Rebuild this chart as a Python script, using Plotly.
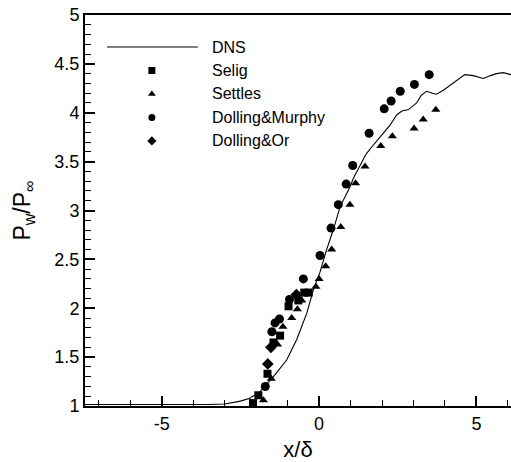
import plotly.graph_objects as go

# ---- DNS wall-pressure distribution ----
dns_x = [-7.44, -6.0, -5.0, -4.0, -3.5, -3.0, -2.5, -2.2, -1.87, -1.45, -1.03, -0.71,
         -0.39, -0.18, 0.03, 0.24, 0.45, 0.67, 0.98, 1.09, 1.35, 1.5, 1.75, 2.0, 2.25,
         2.47, 2.65, 2.83, 3.1, 3.25, 3.42, 3.6, 3.73, 3.95, 4.16, 4.4, 4.63, 4.9,
         5.22, 5.45, 5.64, 5.85, 6.1]
dns_y = [1.015, 1.015, 1.012, 1.015, 1.015, 1.02, 1.05, 1.08, 1.15, 1.30, 1.47, 1.68,
         1.95, 2.19, 2.37, 2.60, 2.80, 3.04, 3.24, 3.33, 3.48, 3.58, 3.68, 3.78, 3.87,
         3.98, 4.02, 4.03, 4.10, 4.18, 4.22, 4.20, 4.19, 4.23, 4.28, 4.34, 4.39, 4.38,
         4.35, 4.38, 4.40, 4.41, 4.39]

# ---- experiments ----
selig_x = [-2.1, -1.93, -1.64, -1.45, -1.24, -0.97, -0.66, -0.47, -0.33]
selig_y = [1.03, 1.11, 1.33, 1.65, 1.72, 2.02, 2.08, 2.16, 2.16]

settles_x = [-1.77, -1.52, -1.32, -1.15, -0.87, -0.69, -0.55, -0.1, 0.0, 0.21, 0.40,
             0.69, 0.98, 1.16, 1.46, 1.96, 2.33, 3.02, 3.31, 3.71]
settles_y = [1.06, 1.28, 1.63, 1.81, 1.90, 1.99, 2.08, 2.22, 2.30, 2.43, 2.60,
             2.83, 3.06, 3.28, 3.45, 3.66, 3.76, 3.84, 3.93, 4.03]

murphy_x = [-1.71, -1.5, -1.4, -1.26, -0.94, -0.5, 0.03, 0.38, 0.61, 0.86, 1.07,
            1.59, 2.07, 2.29, 2.58, 3.03, 3.5]
murphy_y = [1.20, 1.76, 1.85, 1.89, 2.09, 2.30, 2.54, 2.82, 3.06, 3.27, 3.46,
            3.79, 4.04, 4.12, 4.22, 4.29, 4.39]

or_x = [-2.17, -1.63, -1.53, -0.72]
or_y = [0.98, 1.43, 1.60, 2.14]

# ---- axis ticks ----
x_tickvals = [-5, 0, 5]
x_ticktext = ["-5", "0", "5"]
y_tickvals = [1, 1.5, 2, 2.5, 3, 3.5, 4, 4.5, 5]
y_ticktext = ["1", "1.5", "2", "2.5", "3", "3.5", "4", "4.5", "5"]

legend_names = ["DNS", "Selig", "Settles", "Dolling&Murphy", "Dolling&Or"]

FONT = "Liberation Sans, Arial, Helvetica, sans-serif"
BLACK = "black"

fig = go.Figure()

fig.add_trace(go.Scatter(x=dns_x, y=dns_y, mode="lines",
                         line=dict(color=BLACK, width=1.1), showlegend=False))

symbols = [("square", 8), ("triangle-up", 8), ("circle", 9), ("diamond", 9)]
series = [(selig_x, selig_y), (settles_x, settles_y),
          (murphy_x, murphy_y), (or_x, or_y)]
for (sx, sy), (sym, sz) in zip(series, symbols):
    fig.add_trace(go.Scatter(x=sx, y=sy, mode="markers", cliponaxis=False,
                             marker=dict(symbol=sym, size=sz, color=BLACK,
                                         line=dict(width=0)),
                             showlegend=False))

# ---- hand-drawn key on a hidden 0..1 helper axis pair ----
key_rows = [0.918, 0.858, 0.798, 0.738, 0.678]
fig.add_trace(go.Scatter(x=[0.0516, 0.265], y=[key_rows[0]] * 2, mode="lines",
                         line=dict(color=BLACK, width=1.1), xaxis="x2", yaxis="y2",
                         showlegend=False))
for row, (sym, _) in zip(key_rows[1:], symbols):
    fig.add_trace(go.Scatter(x=[0.157], y=[row], mode="markers", xaxis="x2", yaxis="y2",
                             marker=dict(symbol=sym, size=7, color=BLACK, line=dict(width=0)),
                             showlegend=False))
for row, name in zip(key_rows, legend_names):
    fig.add_annotation(x=0.293, y=row, xref="paper", yref="paper", text=name,
                       showarrow=False, xanchor="left", yanchor="middle",
                       font=dict(family=FONT, size=16, color=BLACK))

fig.update_layout(
    width=511, height=462,
    margin=dict(l=85, r=0, t=15, b=56),
    paper_bgcolor="white", plot_bgcolor="white",
    font=dict(family=FONT, color=BLACK),
    xaxis=dict(range=[-7.44, 6.1], showgrid=False, zeroline=False,
               showline=True, linecolor=BLACK, linewidth=2, mirror=True,
               ticks="inside", ticklen=10, tickwidth=1.5, tickcolor=BLACK,
               tickvals=x_tickvals, ticktext=x_ticktext,
               tickfont=dict(size=18, family=FONT),
               minor=dict(dtick=1, ticks="inside", ticklen=6, tickwidth=1, tickcolor=BLACK),
               title=dict(text="x/δ", font=dict(size=22, family=FONT), standoff=9)),
    yaxis=dict(range=[1, 5], showgrid=False, zeroline=False,
               showline=True, linecolor=BLACK, linewidth=2, mirror=False,
               ticks="inside", ticklen=10, tickwidth=1.5, tickcolor=BLACK,
               tickvals=y_tickvals, ticktext=y_ticktext,
               tickfont=dict(size=18, family=FONT),
               minor=dict(dtick=0.1, ticks="inside", ticklen=6, tickwidth=1, tickcolor=BLACK),
               title=dict(text="P<sub>w</sub>/P<sub>∞</sub>", font=dict(size=23, family=FONT),
                          standoff=17)),
    xaxis2=dict(range=[0, 1], overlaying="x", visible=False),
    yaxis2=dict(range=[0, 1], overlaying="y", visible=False),
)

fig.write_html("out.html")
